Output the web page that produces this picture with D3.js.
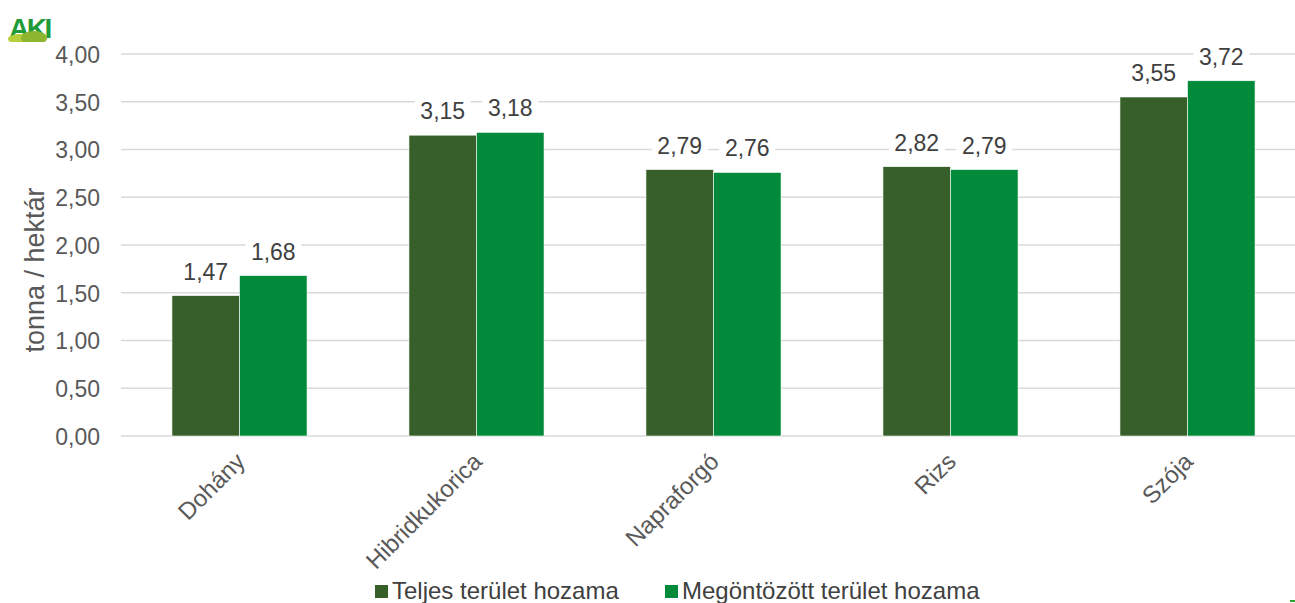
<!DOCTYPE html>
<html><head><meta charset="utf-8">
<script src="https://cdn.jsdelivr.net/npm/d3@7"></script>
<style>body{margin:0;background:#fff;} svg{display:block;font-family:Arial,"Liberation Sans",sans-serif;}</style>
</head><body>
<svg id="c" width="1295" height="603"></svg>
<script>
const categories = ["Dohány","Hibridkukorica","Napraforgó","Rizs","Szója"];
const seriesNames = ["Teljes terület hozama","Megöntözött terület hozama"];
const teljes = [1.47,3.15,2.79,2.82,3.55];
const megontozott = [1.68,3.18,2.76,2.79,3.72];
const yTicks = [0,0.5,1,1.5,2,2.5,3,3.5,4];
const colors = ["#375F2A","#008A3A"];

const svg = d3.select("#c");
const FF = "Arial,'Liberation Sans',sans-serif";
const fmt = v => d3.format(".2f")(v).replace(".", ",");
const x = d3.scaleBand().domain(categories).range([121, 1306]).paddingInner(0.43).paddingOuter(0.215);
const xs = d3.scaleBand().domain([0,1]).range([0, x.bandwidth()]);
const y = d3.scaleLinear().domain([0,4]).range([436, 54]);

// gridlines
svg.append("g").selectAll("line").data(yTicks).join("line")
  .attr("x1",121).attr("x2",1295).attr("y1",d=>y(d)).attr("y2",d=>y(d))
  .attr("stroke","#d9d9d9").attr("stroke-width",1.3);

const yAxis = svg.append("g").attr("transform","translate(100,1)")
  .call(d3.axisLeft(y).tickValues(yTicks).tickFormat(fmt).tickSize(0).tickPadding(0));
yAxis.select(".domain").remove();
yAxis.selectAll("text").attr("font-size",23).attr("fill","#595959").attr("font-family",FF);

svg.append("text").attr("transform","translate(44,270) rotate(-90)").attr("text-anchor","middle")
  .attr("font-size",27).attr("fill","#595959").text("tonna / hektár");

const data = categories.map((c,i)=>({c, vals:[teljes[i], megontozott[i]]}));
const g = svg.append("g").selectAll("g").data(data).join("g").attr("transform",d=>`translate(${x(d.c)},0)`);
g.selectAll("rect").data(d=>d.vals.map((v,k)=>({v,k}))).join("rect")
  .attr("x",d=>xs(d.k)).attr("width",xs.bandwidth()).attr("y",d=>y(d.v)).attr("height",d=>y(0)-y(d.v))
  .attr("fill",d=>colors[d.k]).attr("stroke","#fff").attr("stroke-width",0.6);

// labels with white backgrounds
const lab = g.selectAll("g.lab").data(d=>d.vals.map((v,k)=>({v,k}))).join("g").attr("class","lab")
  .attr("transform",d=>`translate(${xs(d.k)+xs.bandwidth()/2},${y(d.v)-16})`);
lab.append("rect").attr("x",-28).attr("y",-22).attr("width",56).attr("height",28).attr("fill","#fff");
lab.append("text").attr("text-anchor","middle").attr("font-size",23).attr("fill","#404040").text(d=>fmt(d.v));

// x labels
const xAxis = svg.append("g").attr("transform","translate(0,436)")
  .call(d3.axisBottom(x).tickSize(0).tickPadding(0));
xAxis.select(".domain").remove();
xAxis.selectAll("text").attr("font-size",24).attr("fill","#595959").attr("font-family",FF)
  .attr("text-anchor","end").attr("dy",0).attr("transform","translate(7,27) rotate(-45)");

// legend
const leg = svg.append("g").selectAll("g").data(seriesNames).join("g")
  .attr("transform",(d,i)=>`translate(${[375,665][i]},585)`);
leg.append("rect").attr("width",13).attr("height",13).attr("fill",(d,i)=>colors[i]);
leg.append("text").attr("x",17).attr("y",14).attr("font-size",24).attr("fill","#404040").text(d=>d);

// logo
const logo = svg.append("g");
logo.append("text").attr("x",9).attr("y",38).attr("font-size",28).attr("font-weight","bold")
  .attr("fill","#1f9b38").attr("letter-spacing",-2.5).text("AKI");
logo.append("ellipse").attr("cx",20).attr("cy",39).attr("rx",12).attr("ry",5).attr("fill","#b5cf3a");
logo.append("ellipse").attr("cx",34).attr("cy",38).attr("rx",13).attr("ry",7).attr("fill","#8db52f");
logo.append("rect").attr("x",6).attr("y",42).attr("width",54).attr("height",5).attr("fill","#fff");
svg.append("rect").attr("x",1290).attr("y",600).attr("width",5).attr("height",2).attr("fill","#2ca02c");
</script>
</body></html>
